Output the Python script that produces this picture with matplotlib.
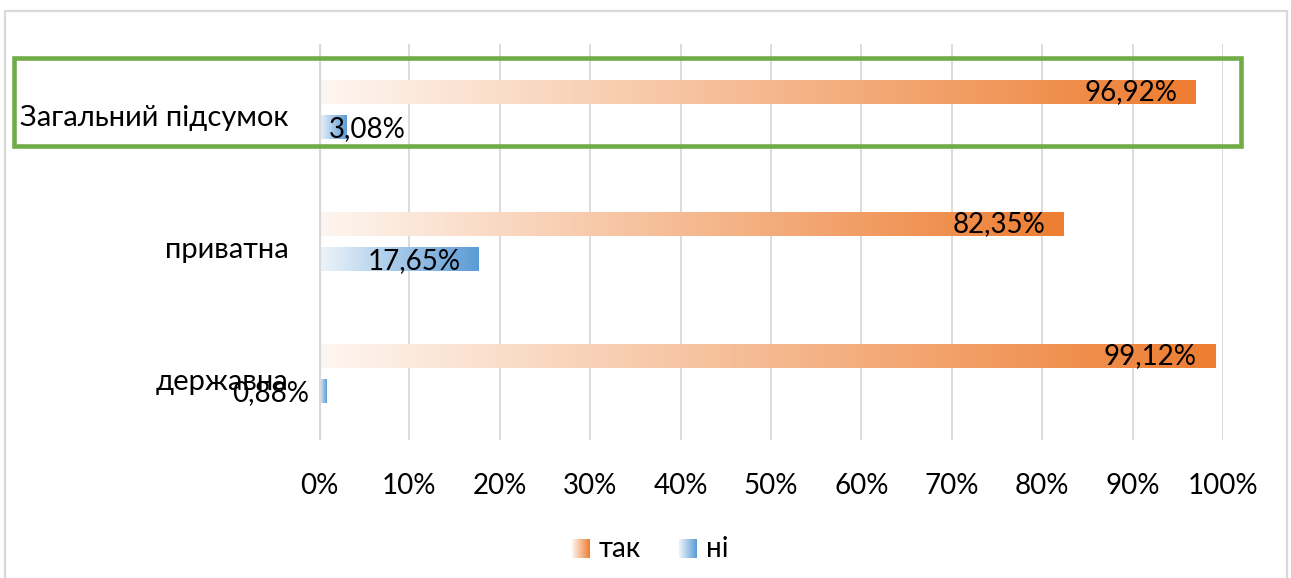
import numpy as np
import matplotlib
matplotlib.use('Agg')
import matplotlib.pyplot as plt
from matplotlib.colors import LinearSegmentedColormap, to_rgb
from matplotlib.patches import Rectangle
from matplotlib.lines import Line2D

# ---- data ----
categories = ['державна', 'приватна', 'Загальний підсумок']
tak_values = [99.12, 82.35, 96.92]
ni_values = [0.88, 17.65, 3.08]
series_names = ['так', 'ні']
tick_values = [0, 10, 20, 30, 40, 50, 60, 70, 80, 90, 100]
tick_labels = ['0%', '10%', '20%', '30%', '40%', '50%', '60%', '70%', '80%', '90%', '100%']

# ---- style ----
plt.rcParams['font.family'] = ['Lato', 'DejaVu Sans']
ORANGE = '#ED7D31'
BLUE = '#5B9BD5'
GRID = '#D9D9D9'
FS = 20

W, H = 1291, 578
fig = plt.figure(figsize=(W / 100, H / 100), dpi=100)
ax = fig.add_axes([319 / W, 1 - 440 / H, (1223 - 319) / W, (440 - 44) / H])


def grad_cmap(color, start=0.07):
    c = np.array(to_rgb(color))
    lo = 1 - start * (1 - c)
    return LinearSegmentedColormap.from_list('g', [lo, c])


cm_o = grad_cmap(ORANGE)
cm_b = grad_cmap(BLUE, 0.1)
grad = np.linspace(0, 1, 256).reshape(1, -1)

ypos = np.arange(len(categories))
bh = 0.175
off = 0.135


def fmt(v):
    return f'{v:.2f}%'.replace('.', ',')


ni_ha = ['right', 'right', 'left']
for yi, v in zip(ypos, tak_values):
    ax.imshow(grad, cmap=cm_o, extent=[0, v, yi + off - bh / 2, yi + off + bh / 2],
              aspect='auto', zorder=2, interpolation='bilinear')
    ax.annotate(fmt(v), xy=(v, yi + off), xytext=(-13, 0), textcoords='offset points',
                ha='right', va='center', fontsize=FS, color='black', zorder=4)
for yi, v, ha in zip(ypos, ni_values, ni_ha):
    ax.imshow(grad, cmap=cm_b, extent=[0, v, yi - off - bh / 2, yi - off + bh / 2],
              aspect='auto', zorder=2, interpolation='bilinear')
    ax.annotate(fmt(v), xy=(v, yi - off), xytext=(-13, -1), textcoords='offset points',
                ha=ha, va='center', fontsize=FS, color='black', zorder=4)

ax.set_xlim(0, 100)
ax.set_ylim(-0.5, len(categories) - 0.5)
ax.set_xticks(tick_values)
ax.set_xticklabels(tick_labels, fontsize=FS)
ax.set_yticks(ypos - 0.04)
ax.set_yticklabels(categories, fontsize=21)
ax.tick_params(axis='x', length=0, pad=24)
ax.tick_params(axis='y', length=0, pad=22)
for s in ax.spines.values():
    s.set_visible(False)
for t in tick_values[1:]:
    ax.axvline(t, color=GRID, lw=1.3, zorder=1)
ax.axvline(0, color=GRID, lw=2.4, zorder=3)
ax.set_facecolor('white')

# ---- legend (manual gradient patches) ----
for (x0, x1), cm, name, tx in [((572, 590), cm_o, series_names[0], 599),
                                 ((679, 697), cm_b, series_names[1], 706)]:
    lax = fig.add_axes([x0 / W, 1 - 558 / H, (x1 - x0) / W, 19 / H])
    lax.imshow(grad, cmap=cm, aspect='auto', extent=[0, 1, 0, 1], interpolation='bilinear')
    lax.axis('off')
    fig.text(tx / W, 1 - 549 / H, name, fontsize=FS, va='center', ha='left')

# ---- highlight box and chart border ----
fig.patches.append(Rectangle((13.5 / W, 1 - 146 / H), (1240.5 - 13.5) / W, (146 - 58) / H,
                             transform=fig.transFigure, fill=False, edgecolor='#70AD47',
                             linewidth=3.3, zorder=10))
bc = '#D9D9D9'
fig.lines.append(Line2D([5 / W, 5 / W, 1287 / W, 1287 / W], [0, 1 - 11 / H, 1 - 11 / H, 0],
                        transform=fig.transFigure, color=bc, lw=1.6))

fig.savefig('out.png', dpi=100)
